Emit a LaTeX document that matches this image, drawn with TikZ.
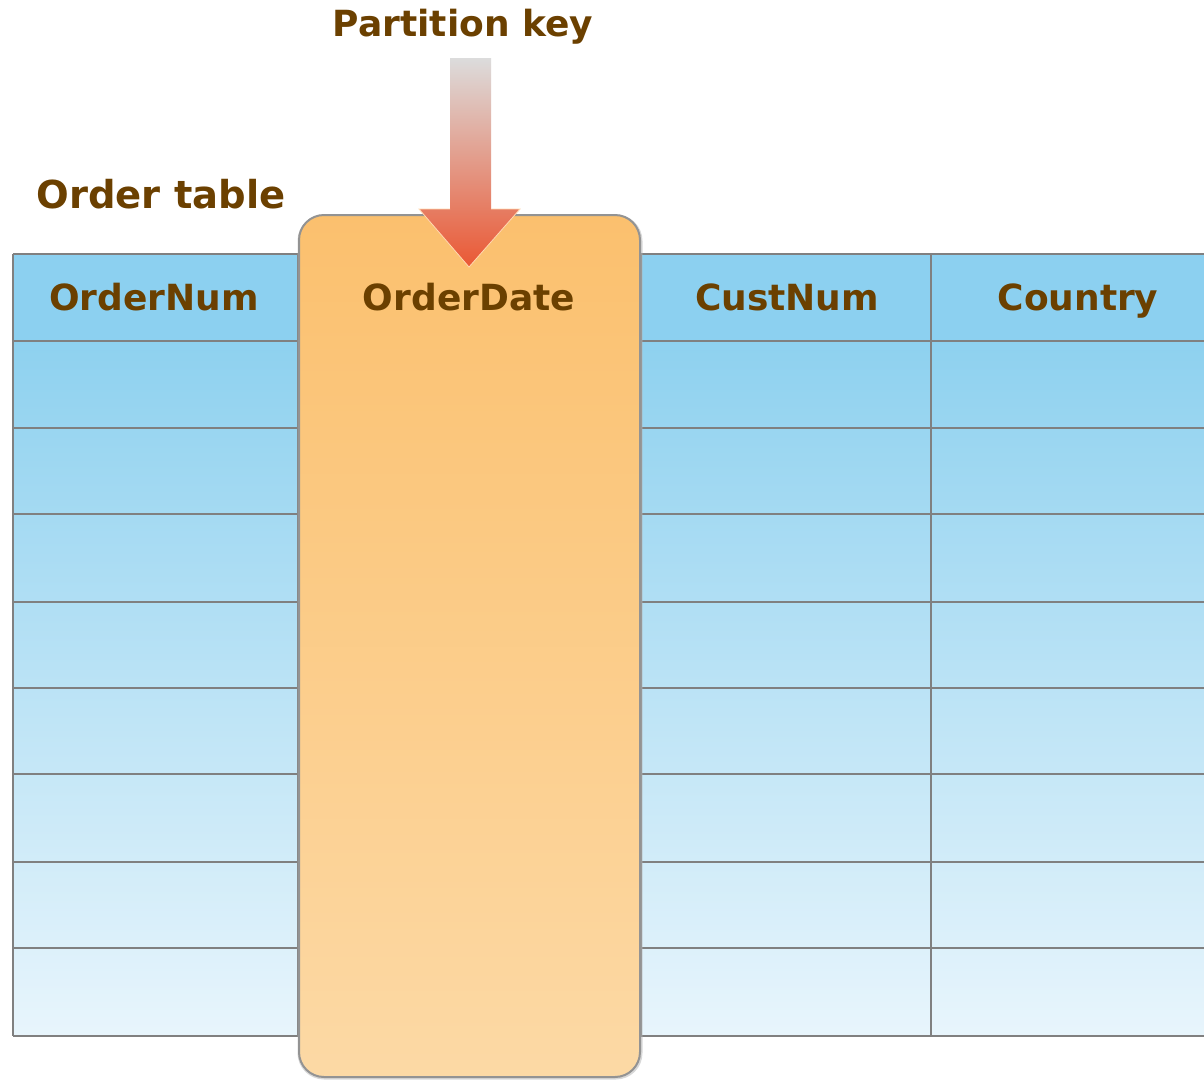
\documentclass[tikz,border=0pt]{standalone}
\usepackage{fontspec}
\setmainfont{DejaVu Sans}
\definecolor{txt}{RGB}{107,64,0}
\definecolor{hdr}{RGB}{140,208,240}
\definecolor{rowtop}{RGB}{142,209,239}
\definecolor{rowbot}{RGB}{232,245,252}
\definecolor{gridc}{RGB}{128,128,128}
\definecolor{orTop}{RGB}{251,192,110}
\definecolor{orBot}{RGB}{252,217,165}
\definecolor{arrTop}{RGB}{220,220,220}
\definecolor{arrBot}{RGB}{234,88,52}
\tikzset{
  lbl/.style={text=txt,font=\bfseries\fontsize{36}{40}\selectfont,inner sep=0pt,anchor=base},
  gridline/.style={draw=gridc,line width=1.6pt},
}
\begin{document}
\begin{tikzpicture}[x=1pt,y=-1pt]
\clip (0,0) rectangle (1204,1079);
\fill[white] (0,0) rectangle (1204,1079);
% table
\fill[hdr] (13,254) rectangle (1215,341);
\shade[top color=rowtop,bottom color=rowbot] (13,341) rectangle (1215,1036);
\foreach \yy in {254,341,428,514,602,688,774,862,948,1036}
  \draw[gridline] (13,\yy) -- (1215,\yy);
\foreach \xx in {13,298,641,931}
  \draw[gridline] (\xx,254) -- (\xx,1036);
% partition column
\draw[draw=black!30,line width=3pt,rounded corners=25pt,opacity=0.5] (299,216) rectangle (641,1078);
\shade[top color=orTop,bottom color=orBot,draw=gridc!85,line width=2pt,rounded corners=25pt]
  (299,215) rectangle (640,1077);
% arrow
\shade[top color=arrTop,bottom color=arrBot,shading angle=0]
  (450,58) -- (491,58) -- (491,209) -- (520,209) -- (469,267) -- (419,209) -- (450,209) -- cycle;
\draw[draw=white!70!orange,line width=0.8pt] (491,209) -- (520,209) -- (469,267) -- (419,209) -- (450,209);
% labels
\node[lbl] (pk) at (463,36) {Partition key};
\node[lbl,font=\bfseries\fontsize{38.5}{42}\selectfont] (ot) at (161,208) {Order table};
\node[lbl] (h1) at (154,310) {OrderNum};
\node[lbl] (h2) at (469,310) {OrderDate};
\node[lbl] (h3) at (787,310) {CustNum};
\node[lbl] (h4) at (1078,310) {Country};
\end{tikzpicture}
\end{document}
